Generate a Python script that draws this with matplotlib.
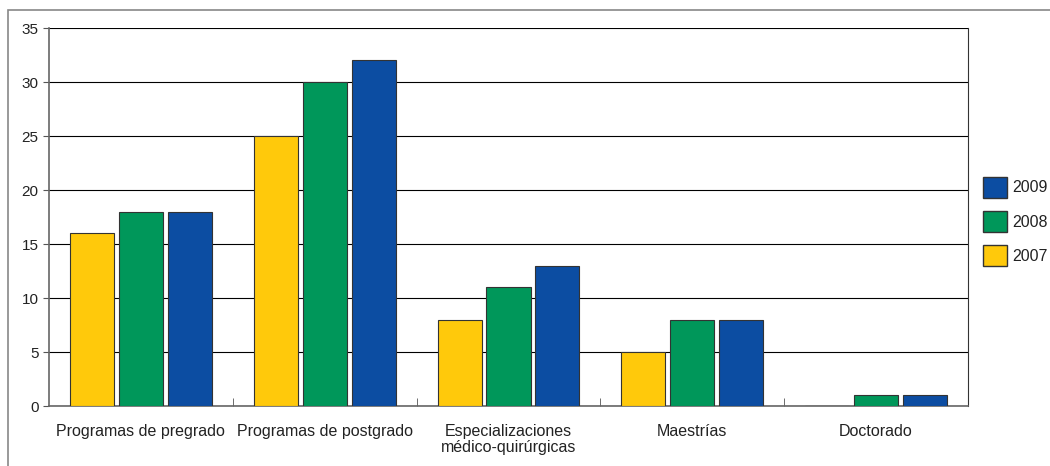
import numpy as np
from matplotlib import pyplot as plt
from matplotlib.patches import Patch, Rectangle

categories = ["Programas de pregrado", "Programas de postgrado",
              "Especializaciones\nmédico-quirúrgicas", "Maestrías", "Doctorado"]
years = ["2007", "2008", "2009"]
vals_2007 = [16, 25, 8, 5, 0]
vals_2008 = [18, 30, 11, 8, 1]
vals_2009 = [18, 32, 13, 8, 1]
colors = ["#FFC90B", "#00975A", "#0C4DA2"]

plt.rcParams['font.family'] = ['Liberation Sans', 'DejaVu Sans']
plt.rcParams['text.color'] = "#222222"

fig = plt.figure(figsize=(10.5, 4.66), dpi=100)
ax = fig.add_axes([49/1050, 1-406/466, (968-49)/1050, (406-28)/466])

# outer frame of the figure box (cut off at right and bottom)
fig.patches.append(Rectangle((8/1050, -0.1), 1.2, 1 - 10/466 + 0.1,
                             transform=fig.transFigure, fill=False,
                             edgecolor="#888888", lw=1.2))

x = np.arange(len(categories))
step = 0.266
width = 0.24
series = [vals_2007, vals_2008, vals_2009]
for i, (vals, c) in enumerate(zip(series, colors)):
    ax.bar(x + (i - 1) * step, vals, width, color=c,
           edgecolor="#333333", linewidth=0.8, zorder=3)

ax.set_xlim(-0.5, len(categories) - 0.5)
ax.set_ylim(0, 35)
ax.set_yticks(range(0, 36, 5))
ax.yaxis.grid(True, color="black", linewidth=0.8, zorder=0)
ax.tick_params(axis="y", length=4, color="#555555", labelsize=11, labelcolor="#222222")

ax.set_xticks(x)
ax.set_xticklabels(categories, fontsize=11.5, color="#222222", linespacing=1.05)
ax.tick_params(axis="x", length=0, pad=13)
# small separator ticks between groups
ax.set_xticks(np.arange(0.5, len(categories) - 1, 1), minor=True)
ax.tick_params(axis="x", which="minor", direction="in", length=6, color="#555555")

for s in ["left", "bottom"]:
    ax.spines[s].set_color("#666666")
    ax.spines[s].set_linewidth(1.2)
ax.spines["right"].set_color("#333333")
ax.spines["top"].set_visible(False)

handles = [Patch(facecolor=colors[i], edgecolor="#333333", label=years[i]) for i in (2, 1, 0)]
fig.legend(handles=handles, loc="upper left", bbox_to_anchor=(983/1050, 1-177/466),
           frameon=False, fontsize=11.5, handlelength=1.5, handleheight=1.6,
           labelspacing=0.85, handletextpad=0.35, borderaxespad=0, borderpad=0)

fig.savefig("out.png", dpi=100)
